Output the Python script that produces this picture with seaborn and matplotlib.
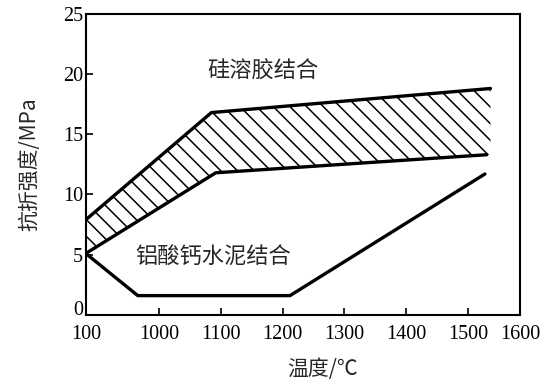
import matplotlib
matplotlib.use("Agg")
import matplotlib.pyplot as plt
import matplotlib.transforms as mtransforms
import pandas as pd
import numpy as np
import seaborn as sns

# data
upper_x = [882, 1085, 1536]
upper_y = [7.9, 16.8, 18.8]
lower_x = [882, 1092, 1530]
lower_y = [5.1, 11.8, 13.3]
cement_x = [882, 966, 1212, 1527]
cement_y = [5.1, 1.6, 1.6, 11.7]

xticks = [882, 1000, 1100, 1200, 1300, 1400, 1500, 1584]
xtick_labels = ["100", "1000", "1100", "1200", "1300", "1400", "1500", "1600"]
yticks = [0, 5, 10, 15, 20, 25]

sns.set_style("ticks")
plt.rcParams['font.family'] = ['Liberation Serif', 'Noto Sans CJK SC', 'DejaVu Sans']
plt.rcParams['hatch.linewidth'] = 1.1
cjk = ['Noto Sans CJK SC', 'DejaVu Sans']

fig, ax = plt.subplots(figsize=(5.43, 3.84), dpi=100)
fig.subplots_adjust(left=0.158, right=0.958, top=0.964, bottom=0.18)

# hatched band between the two silica sol lines
xs = np.linspace(882, 1536, 400)
top = np.interp(xs, upper_x, upper_y)
bot = np.interp(xs, lower_x, lower_y)
ax.fill_between(xs, bot, top, facecolor="white", edgecolor="black", hatch="\\\\", linewidth=0)

sns.lineplot(x=upper_x, y=upper_y, ax=ax, color="black", linewidth=2.4, sort=False)
sns.lineplot(x=lower_x, y=lower_y, ax=ax, color="black", linewidth=2.4, sort=False)
sns.lineplot(x=cement_x, y=cement_y, ax=ax, color="black", linewidth=2.4, sort=False)

ax.text(1168, 20.2, "硅溶胶结合", ha="center", va="center", fontsize=16, family=cjk)
ax.text(1087, 4.8, "铝酸钙水泥结合", ha="center", va="center", fontsize=16, family=cjk)

ax.set_xlim(882, 1584)
ax.set_ylim(0, 25)
ax.set_xticks(xticks)
ax.set_xticklabels(xtick_labels)
ax.set_yticks(yticks)
ax.tick_params(direction="in", length=5, width=1.2, labelsize=14.5, colors="black", pad=2)
ax.tick_params(axis="x", pad=7)
for s in ax.spines.values():
    s.set_linewidth(1.5)
    s.set_color("black")

# nudge the "0" label up so it clears the "100" below it
zero = ax.yaxis.get_major_ticks()[0].label1
zero.set_transform(zero.get_transform() + mtransforms.ScaledTranslation(0, 5 / 72, fig.dpi_scale_trans))

ax.set_xlabel("温度/℃", family=cjk, fontsize=15, va="center")
ax.xaxis.set_label_coords(0.544, -0.18)
ax.set_ylabel("抗折强度/MPa", family=cjk, fontsize=15, labelpad=16)

fig.savefig("out.png", dpi=100)
